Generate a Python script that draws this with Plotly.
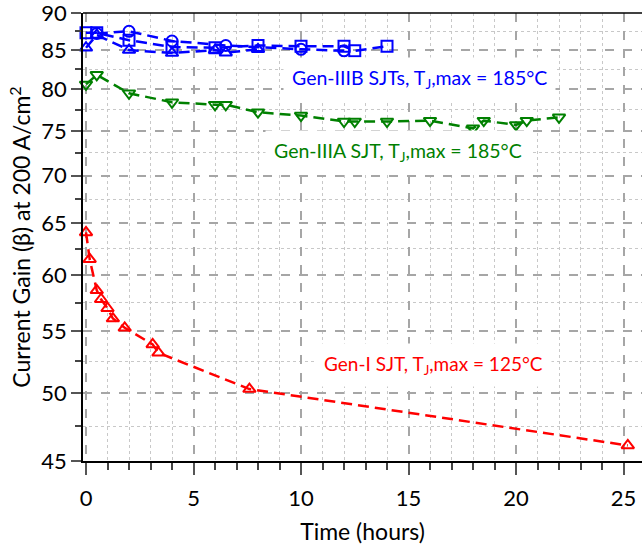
import plotly.graph_objects as go

# Gen-I SJT (red)
red_h = [0, 0.17, 0.5, 0.7, 1.0, 1.25, 1.8, 3.1, 3.37, 7.6, 25.2]
red_v = [64.1, 61.5, 58.6, 57.8, 57.0, 56.1, 55.3, 53.9, 53.2, 50.3, 46.1]

# Gen-IIIA SJT (green)
green_h = [0, 0.5, 2, 4, 6, 6.5, 8, 10, 12, 12.5, 14, 16, 18, 18.5, 20, 20.5, 22]
green_v = [80.6, 81.8, 79.5, 78.4, 78.1, 78.1, 77.2, 76.8, 76.1, 76.1, 76.1, 76.2, 75.3, 76.2, 75.7, 76.2, 76.6]

# Gen-IIIB SJTs (blue)
bc_h = [0.5, 2, 4, 6.5, 10, 12]
bc_v = [87.2, 87.5, 86.2, 85.6, 85.1, 84.9]
bs_h = [0, 0.5, 2, 4, 6, 8, 10, 12, 12.5, 14]
bs_v = [87.3, 87.3, 86.3, 85.4, 85.3, 85.6, 85.5, 85.5, 84.9, 85.5]
bt_h = [0, 0.5, 2, 4, 6, 6.5, 8]
bt_v = [85.3, 87.0, 85.0, 84.6, 85.0, 84.65, 85.1]

y_major = [45, 50, 55, 60, 65, 70, 75, 80, 85, 90]
y_minor = [47.5, 52.5, 57.5, 62.5, 67.5, 72.5, 77.5, 82.5, 87.5]

FONT = "Lato"
DASH = "11px,6px"

fig = go.Figure()

def add(h, v, color, symbol):
    fig.add_trace(go.Scatter(
        x=h, y=v, mode="lines+markers",
        line=dict(color=color, width=2.5, dash=DASH),
        marker=dict(symbol=symbol, size=11, color=color,
                    line=dict(color=color, width=2)),
        showlegend=False, cliponaxis=False))

add(green_h, green_v, "#008000", "triangle-down-open")
add(bt_h, bt_v, "#0000ff", "triangle-up-open")
add(bc_h, bc_v, "#0000ff", "circle-open")
add(bs_h, bs_v, "#0000ff", "square-open")
add(red_h, red_v, "#ff0000", "triangle-up-open")

L, T, W, H = 83, 13, 559, 448
def px(xp): return (xp - L) / W
def py(yp): return 1 - (yp - T) / H

def note(text, x, y, color, size):
    fig.add_annotation(x=px(x), y=py(y), xref="paper", yref="paper", text=text,
                       showarrow=False, font=dict(family=FONT, size=size, color=color),
                       bgcolor="white", xanchor="center", yanchor="middle",
                       borderpad=8)

note("Gen-IIIB SJTs, T<sub>J</sub>,max = 185°C", 419, 79, "#0000ff", 19.5)
note("Gen-IIIA SJT, T<sub>J</sub>,max = 185°C", 398, 152, "#008000", 19.5)
note("Gen-I SJT, T<sub>J</sub>,max = 125°C", 433, 365, "#ff0000", 19)

# top frame line
fig.add_shape(type="line", xref="paper", yref="paper", x0=0, x1=1, y0=1, y1=1,
              line=dict(color="black", width=1.5))

fig.update_layout(
    width=642, height=548,
    margin=dict(l=L, r=0, t=T, b=548 - T - H),
    plot_bgcolor="white", paper_bgcolor="white",
    font=dict(family=FONT, size=22, color="black"),
    xaxis=dict(
        range=[-0.14, 25.86], tickmode="linear", tick0=0, dtick=5,
        ticks="outside", ticklen=12, tickwidth=2, tickcolor="#555555",
        showline=True, linecolor="black", linewidth=1.5, mirror=False,
        showgrid=True, gridcolor="#a6a6a6", gridwidth=2, griddash="dash",
        zeroline=False, ticklabelstandoff=5, ticklabeloverflow="allow",
        tickfont=dict(family=FONT, size=22),
        title=dict(text="Time (hours)", font=dict(family=FONT, size=23), standoff=14),
        minor=dict(dtick=1, tick0=0, ticks="outside", ticklen=7, tickwidth=1.5,
                   tickcolor="#444444", showgrid=True, gridcolor="#c8c8c8",
                   gridwidth=1, griddash="dot"),
    ),
    yaxis=dict(
        type="log", range=[1.653213, 1.95431],
        tickmode="array", tickvals=y_major, ticktext=[str(v) for v in y_major],
        ticks="outside", ticklen=10, tickwidth=2, tickcolor="#555555",
        showline=True, linecolor="black", linewidth=1.5, mirror=False,
        showgrid=True, gridcolor="#a6a6a6", gridwidth=2, griddash="dash",
        zeroline=False, ticklabeloverflow="allow",
        tickfont=dict(family=FONT, size=22),
        title=dict(text="Current Gain (β) at 200 A/cm<sup>2</sup>",
                   font=dict(family=FONT, size=23), standoff=4),
        minor=dict(tickmode="array", tickvals=y_minor, ticks="outside", ticklen=6,
                   tickwidth=1.5, tickcolor="#444444", showgrid=True,
                   gridcolor="#c8c8c8", gridwidth=1, griddash="dot"),
    ),
)

fig.write_html("out.html")
